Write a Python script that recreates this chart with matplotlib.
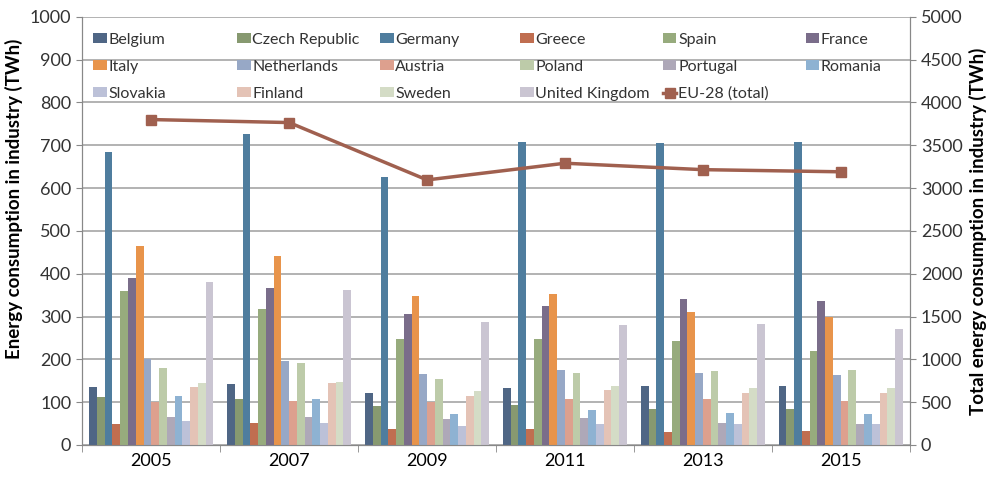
import matplotlib
matplotlib.use("Agg")
import matplotlib.pyplot as plt
from matplotlib.legend import Legend
import numpy as np

years = ["2005", "2007", "2009", "2011", "2013", "2015"]
countries = ["Belgium", "Czech Republic", "Germany", "Greece", "Spain", "France",
             "Italy", "Netherlands", "Austria", "Poland", "Portugal", "Romania",
             "Slovakia", "Finland", "Sweden", "United Kingdom"]
colors = ["#4F6685", "#879970", "#4F7D9E", "#C06E50", "#97AB7D", "#7A6D8A",
          "#E8944B", "#97A8C6", "#DDA08E", "#BDCBA9", "#AEA8B8", "#8EB2D2",
          "#BCC1D8", "#E4C3B6", "#D4DCC6", "#CAC5D2"]

belgium     = [135, 142, 122, 133, 137, 137]
czech       = [112, 108,  92,  93,  85,  85]
germany     = [685, 727, 625, 708, 705, 708]
greece      = [ 48,  52,  38,  37,  30,  32]
spain       = [360, 318, 248, 247, 242, 220]
france      = [390, 367, 307, 325, 340, 337]
italy       = [465, 442, 348, 352, 310, 300]
netherlands = [200, 195, 165, 175, 167, 163]
austria     = [100, 102, 100, 108, 108, 102]
poland      = [180, 192, 153, 168, 172, 175]
portugal    = [ 65,  65,  60,  62,  52,  50]
romania     = [115, 108,  72,  82,  75,  73]
slovakia    = [ 55,  52,  45,  48,  50,  50]
finland     = [135, 145, 115, 128, 122, 122]
sweden      = [145, 148, 127, 138, 133, 133]
uk          = [380, 363, 288, 280, 282, 272]
eu28_total  = [3800, 3765, 3095, 3290, 3215, 3190]

series = [belgium, czech, germany, greece, spain, france, italy, netherlands,
          austria, poland, portugal, romania, slovakia, finland, sweden, uk]

plt.rcParams['font.family'] = ['Lato', 'DejaVu Sans']

fig = plt.figure(figsize=(9.92, 4.80), dpi=100)
ax = fig.add_axes([0.083, 0.073, 0.834, 0.892])
ax2 = ax.twinx()

x = np.arange(len(years))
n = len(series)
bw = 0.9 / n
for i, (vals, c, name) in enumerate(zip(series, colors, countries)):
    ax.bar(x - 0.5 + 0.05 + bw * (i + 0.5), vals, width=bw, color=c, label=name, zorder=3)

ax.set_xlim(-0.5, len(years) - 0.5)
ax.set_ylim(0, 1000)
ax.set_yticks(np.arange(0, 1001, 100))
ax.yaxis.grid(True, color="#A6A6A6", linewidth=1.2, zorder=0)
ax.set_axisbelow(True)
ax.set_xticks(x)
ax.set_xticklabels(years, fontsize=13)
ax.set_xticks(np.arange(-0.5, len(years)), minor=True)
ax.tick_params(axis='x', which='major', length=0, pad=6)
ax.tick_params(axis='x', which='minor', length=5, color="#888888")
ax.tick_params(axis='y', labelsize=13, length=4, color="#888888", pad=4, labelcolor="#333333")

ax2.plot(x, eu28_total, color="#A0604F", linewidth=2.5, marker='s', markersize=7,
         label="EU-28 (total)", zorder=5)
ax2.set_ylim(0, 5000)
ax2.set_yticks(np.arange(0, 5001, 500))
ax2.tick_params(axis='y', labelsize=13, length=4, color="#888888", pad=4, labelcolor="#333333")

for a in (ax, ax2):
    for s in a.spines.values():
        s.set_color("#888888")
    a.spines['top'].set_visible(False)

ax.set_ylabel("Energy consumption in industry (TWh)", fontsize=13.5, fontweight='bold')
ax.yaxis.set_label_coords(-0.072, 0.575)
ax2.set_ylabel("Total energy consumption in industry (TWh)", fontsize=13.5, fontweight='bold')
ax2.yaxis.set_label_coords(1.072, 0.5)

h1, l1 = ax.get_legend_handles_labels()
h2, l2 = ax2.get_legend_handles_labels()
handles = h1 + h2
labels = l1 + l2
ncol = 6
col_left_px = [93, 237, 380, 520, 663, 806]
for c in range(ncol):
    idxs = [r * ncol + c for r in range(3) if r * ncol + c < len(handles)]
    xf = (col_left_px[c] - 82) / 828.0
    leg = Legend(ax2, [handles[i] for i in idxs], [labels[i] for i in idxs],
                 loc='upper left', bbox_to_anchor=(xf, 0.963),
                 frameon=False, fontsize=11.5, handlelength=0.85, handleheight=0.55,
                 handletextpad=0.1, borderaxespad=0.0, borderpad=0.0,
                 labelspacing=0.82, labelcolor="#333333")
    ax2.add_artist(leg)

fig.savefig("out.png", dpi=100)
